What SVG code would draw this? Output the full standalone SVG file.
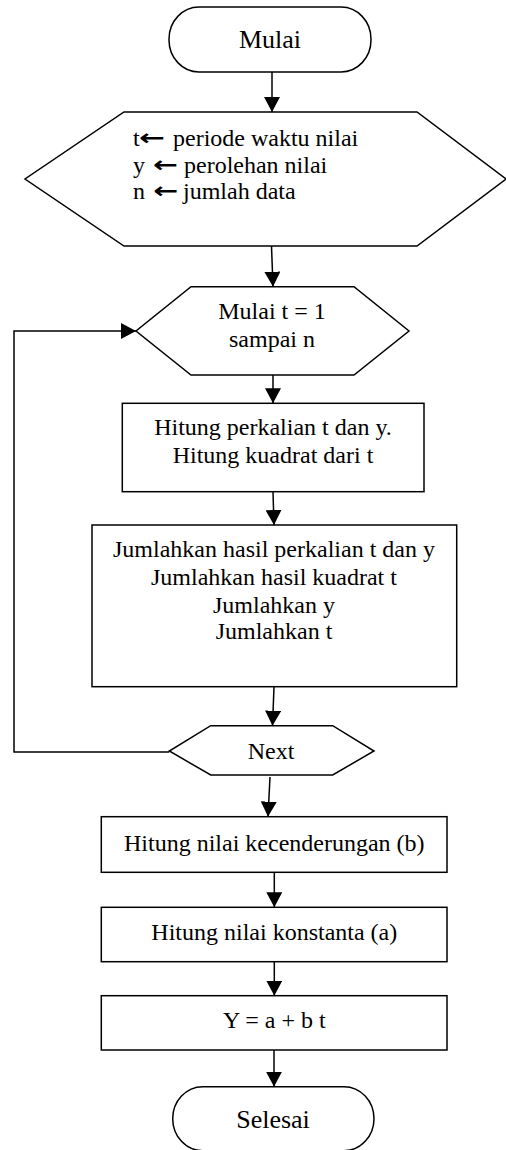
<svg xmlns="http://www.w3.org/2000/svg" width="506" height="1150" viewBox="0 0 506 1150">
  <style>
    .shape { fill: #ffffff; stroke: #000000; stroke-width: 1.5; }
    .edge { fill: none; stroke: #000000; stroke-width: 1.5; }
    .lbl { font-family: "Liberation Serif", "Times New Roman", serif; font-size: 24px; fill: #000000; }
    .mid { text-anchor: middle; }
    .term { font-size: 26px; }
    .arw { font-family: "DejaVu Sans", sans-serif; font-weight: bold; font-size: 22px; }
  </style>
  <defs>
    <marker id="head" markerUnits="userSpaceOnUse" markerWidth="16" markerHeight="16" refX="15" refY="8" orient="auto">
      <path d="M0,0 L15,8 L0,16 Z" fill="#000000"/>
    </marker>
  </defs>

  <rect width="506" height="1150" fill="#ffffff"/>

  <!-- connectors -->
  <g id="connectors">
    <line class="edge" x1="272" y1="72" x2="272" y2="112" marker-end="url(#head)"/>
    <line class="edge" x1="271.5" y1="246" x2="273" y2="286.7" marker-end="url(#head)"/>
    <line class="edge" x1="273" y1="375" x2="273" y2="403.3" marker-end="url(#head)"/>
    <line class="edge" x1="273" y1="491.7" x2="274" y2="525" marker-end="url(#head)"/>
    <line class="edge" x1="274" y1="686.7" x2="272.5" y2="725.7" marker-end="url(#head)"/>
    <line class="edge" x1="270" y1="777" x2="268" y2="816.7" marker-end="url(#head)"/>
    <line class="edge" x1="274.3" y1="872.3" x2="274.3" y2="907.3" marker-end="url(#head)"/>
    <line class="edge" x1="274.3" y1="961.7" x2="274.3" y2="995.7" marker-end="url(#head)"/>
    <line class="edge" x1="274" y1="1050" x2="274" y2="1086.7" marker-end="url(#head)"/>
    <!-- loop back from Next to the loop header -->
    <path class="edge" d="M169.3,752 L14,752 L14,331 L136,331" marker-end="url(#head)"/>
  </g>

  <g id="start">
    <rect class="shape" x="169" y="7" width="202" height="65" rx="30" ry="32"/>
    <text class="lbl term mid" x="270" y="48">Mulai</text>
  </g>

  <g id="input">
    <polygon class="shape" points="124,112 417,112 506,179 417,246 124,246 25,179"/>
    <text class="lbl" y="146"><tspan x="133">t</tspan><tspan class="arw" x="139" dy="-1" textLength="26" lengthAdjust="spacingAndGlyphs">←</tspan><tspan x="173" dy="1">periode waktu nilai</tspan></text>
    <text class="lbl" y="173"><tspan x="133">y</tspan><tspan class="arw" x="153" dy="-1" textLength="25" lengthAdjust="spacingAndGlyphs">←</tspan><tspan x="184" dy="1">perolehan nilai</tspan></text>
    <text class="lbl" y="199"><tspan x="133">n</tspan><tspan class="arw" x="153.3" dy="-1" textLength="25" lengthAdjust="spacingAndGlyphs">←</tspan><tspan x="183" dy="1">jumlah data</tspan></text>
  </g>

  <g id="loop-start">
    <polygon class="shape" points="191,286.7 354,286.7 409,331 354,375 191,375 136,331"/>
    <text class="lbl mid" x="272" y="319">Mulai t = 1</text>
    <text class="lbl mid" x="272" y="346.5">sampai n</text>
  </g>

  <g id="compute-products">
    <rect class="shape" x="122.3" y="403.3" width="301.7" height="88.4"/>
    <text class="lbl mid" x="273" y="435">Hitung perkalian t dan y.</text>
    <text class="lbl mid" x="273" y="463.3">Hitung kuadrat dari t</text>
  </g>

  <g id="accumulate">
    <rect class="shape" x="92" y="525" width="364.7" height="161.7"/>
    <text class="lbl mid" x="274" y="557.3">Jumlahkan hasil perkalian t dan y</text>
    <text class="lbl mid" x="274" y="585">Jumlahkan hasil kuadrat t</text>
    <text class="lbl mid" x="274" y="612.7">Jumlahkan y</text>
    <text class="lbl mid" x="274" y="639.3">Jumlahkan t</text>
  </g>

  <g id="next">
    <polygon class="shape" points="210.7,725.7 332.7,725.7 374,751 332.7,775 210.7,775 169.3,751"/>
    <text class="lbl mid" x="271" y="759">Next</text>
  </g>

  <g id="slope">
    <rect class="shape" x="101.3" y="816.7" width="345.7" height="55.6"/>
    <text class="lbl mid" x="274.3" y="851">Hitung nilai kecenderungan (b)</text>
  </g>

  <g id="intercept">
    <rect class="shape" x="101.3" y="907.3" width="345.7" height="54.4"/>
    <text class="lbl mid" x="274.3" y="940">Hitung nilai konstanta (a)</text>
  </g>

  <g id="equation">
    <rect class="shape" x="101.3" y="995.7" width="345.7" height="54.3"/>
    <text class="lbl mid" x="274.3" y="1027.7">Y = a + b t</text>
  </g>

  <g id="end">
    <rect class="shape" x="172.7" y="1086.7" width="201.3" height="64" rx="30" ry="32"/>
    <text class="lbl term mid" x="273" y="1127.7">Selesai</text>
  </g>
</svg>
